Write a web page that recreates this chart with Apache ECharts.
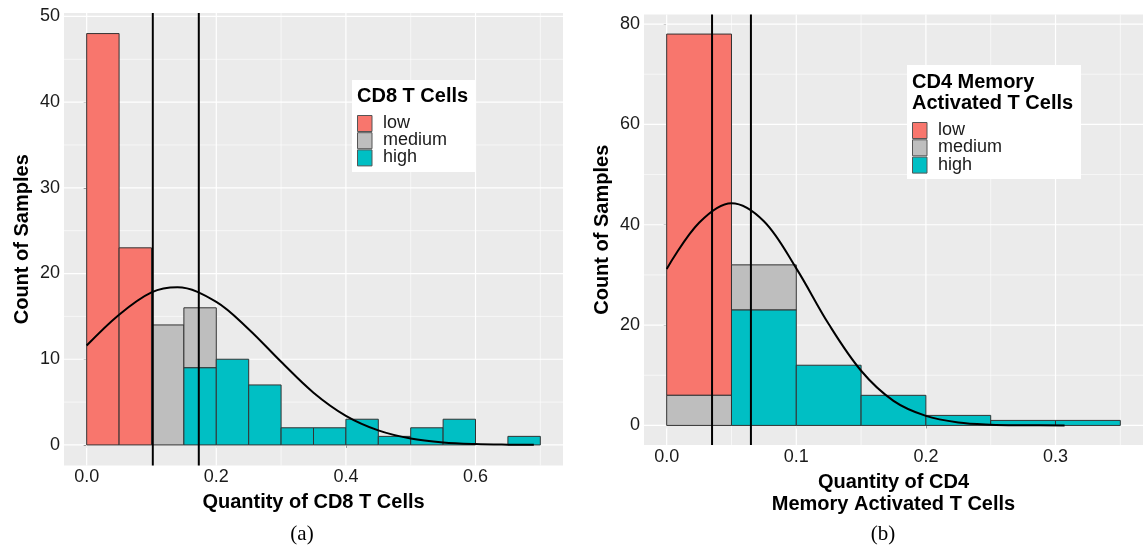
<!DOCTYPE html>
<html><head><meta charset="utf-8">
<script src="https://cdn.jsdelivr.net/npm/echarts@6/dist/echarts.min.js"></script>
<style>html,body{margin:0;padding:0;background:#fff}#c{width:1146px;height:547px}</style>
</head><body><div id="c"></div>
<script>
// ---------- data ----------
const binWidth = 0.05;
const levels = ['low', 'medium', 'high'];
const levelColors = ['#F8766D', '#BEBEBE', '#00BFC4'];

// Panel (a): CD8 T Cells
const aBinStarts = [0, 0.05, 0.1, 0.15, 0.2, 0.25, 0.3, 0.35, 0.4, 0.45, 0.5, 0.55, 0.6, 0.65];
const aLow       = [48, 23, 0, 0, 0, 0, 0, 0, 0, 0, 0, 0, 0, 0];
const aMedium    = [0, 0, 14, 7, 0, 0, 0, 0, 0, 0, 0, 0, 0, 0];
const aHigh      = [0, 0, 0, 9, 10, 7, 2, 2, 3, 1, 2, 3, 0, 1];
const aCutoffs   = [0.102, 0.173];
const aCurveX    = [0, 0.05, 0.1, 0.14, 0.2, 0.25, 0.3, 0.35, 0.4, 0.45, 0.5, 0.55, 0.6, 0.65, 0.69];
const aCurveY    = [11.6, 15.2, 17.8, 18.4, 16.7, 13.5, 9.7, 6.1, 3.4, 1.7, 0.75, 0.29, 0.1, 0.03, 0.01];
const aXTicks    = [0, 0.2, 0.4, 0.6];
const aXMinor    = [0.1, 0.3, 0.5, 0.7];
const aYTicks    = [0, 10, 20, 30, 40, 50];
const aYMinor    = [5, 15, 25, 35, 45];
const aXTitle    = 'Quantity of CD8 T Cells';
const aLegendTitle = 'CD8 T Cells';
const aCaption   = '(a)';

// Panel (b): CD4 Memory Activated T Cells
const bBinStarts = [0, 0.05, 0.1, 0.15, 0.2, 0.25, 0.3];
const bLow       = [72, 0, 0, 0, 0, 0, 0];
const bMedium    = [6, 9, 0, 0, 0, 0, 0];
const bHigh      = [0, 23, 12, 6, 2, 1, 1];
const bCutoffs   = [0.035, 0.065];
const bCurveX    = [0, 0.025, 0.05, 0.075, 0.1, 0.125, 0.15, 0.175, 0.2, 0.225, 0.25, 0.275, 0.307];
const bCurveY    = [31.2, 40.4, 44.3, 40.7, 31.3, 20.2, 10.9, 4.9, 1.9, 0.6, 0.16, 0.04, 0.0];
const bXTicks    = [0, 0.1, 0.2, 0.3];
const bXMinor    = [0.05, 0.15, 0.25, 0.35];
const bYTicks    = [0, 20, 40, 60, 80];
const bYMinor    = [10, 30, 50, 70];
const bXTitle    = 'Quantity of CD4\nMemory Activated T Cells';
const bLegendTitle = 'CD4 Memory\nActivated T Cells';
const bCaption   = '(b)';

// ---------- helpers ----------
const FONT = 'Liberation Sans, Arial, sans-serif';
const chart = echarts.init(document.getElementById('c'), null, {renderer: 'canvas'});

function stackedRects(starts, low, med, high) {
  // stacking bottom -> top: high, medium, low
  const out = [[], [], []];
  starts.forEach((x0, i) => {
    let base = 0;
    [[2, high[i]], [1, med[i]], [0, low[i]]].forEach(([lvl, v]) => {
      if (v > 0) { out[lvl].push([x0, x0 + binWidth, base, base + v]); base += v; }
    });
  });
  return out;
}

function gridLineSeries(idx, values, dir, width) {
  return {
    type: 'custom', xAxisIndex: idx, yAxisIndex: idx, z: 1, silent: true,
    data: values.map(v => dir === 'x' ? [v, 0] : [0, v]),
    encode: dir === 'x' ? {x: 0} : {y: 1},
    renderItem: (params, api) => {
      const cs = params.coordSys;
      const p = api.coord([api.value(0), api.value(1)]);
      const shape = dir === 'x'
        ? {x1: p[0], y1: cs.y, x2: p[0], y2: cs.y + cs.height}
        : {x1: cs.x, y1: p[1], x2: cs.x + cs.width, y2: p[1]};
      return {type: 'line', shape, style: {stroke: '#FFFFFF', lineWidth: width}};
    }
  };
}

function barSeries(idx, rects, lvl) {
  return {
    type: 'custom', name: levels[lvl], xAxisIndex: idx, yAxisIndex: idx, z: 3, silent: true,
    data: rects, encode: {x: [0, 1], y: [2, 3]},
    renderItem: (params, api) => {
      const a = api.coord([api.value(0), api.value(3)]);
      const b = api.coord([api.value(1), api.value(2)]);
      return {type: 'rect', shape: {x: a[0], y: a[1], width: b[0] - a[0], height: b[1] - a[1]},
        style: {fill: levelColors[lvl], stroke: '#333333', lineWidth: 1}};
    }
  };
}

function cutoffSeries(idx, values) {
  return {
    type: 'custom', xAxisIndex: idx, yAxisIndex: idx, z: 4, silent: true,
    data: values.map(v => [v, 0]), encode: {x: 0},
    renderItem: (params, api) => {
      const cs = params.coordSys;
      const p = api.coord([api.value(0), 0]);
      return {type: 'line', shape: {x1: p[0], y1: cs.y, x2: p[0], y2: cs.y + cs.height},
        style: {stroke: '#000', lineWidth: 2}};
    }
  };
}

function curveSeries(idx, xs, ys) {
  return {
    type: 'line', xAxisIndex: idx, yAxisIndex: idx, z: 5, silent: true,
    data: xs.map((x, i) => [x, ys[i]]), smooth: 0.35, showSymbol: false,
    lineStyle: {color: '#000', width: 2}
  };
}

function xAxisCfg(idx, min, max, ticks, title, gap) {
  return {
    gridIndex: idx, type: 'value', min, max,
    splitLine: {show: false}, axisLine: {show: false},
    axisTick: {show: true, customValues: ticks, length: 3, lineStyle: {color: '#333', width: 1}},
    axisLabel: {customValues: ticks, formatter: v => v.toFixed(1), fontSize: 18, color: '#1a1a1a',
      margin: 3, fontFamily: FONT},
    name: title, nameLocation: 'middle', nameGap: gap,
    nameTextStyle: {fontSize: 20, fontWeight: 'bold', color: '#000', fontFamily: FONT,
      lineHeight: 22.5, verticalAlign: 'top'}
  };
}
function yAxisCfg(idx, min, max, ticks) {
  return {
    gridIndex: idx, type: 'value', min, max,
    splitLine: {show: false}, axisLine: {show: false},
    axisTick: {show: true, customValues: ticks, length: 3, lineStyle: {color: '#333', width: 1}},
    axisLabel: {customValues: ticks, formatter: v => String(v), fontSize: 18, color: '#1a1a1a',
      margin: 4, fontFamily: FONT},
    name: 'Count of Samples', nameLocation: 'middle', nameGap: 32,
    nameTextStyle: {fontSize: 20, fontWeight: 'bold', color: '#000', fontFamily: FONT}
  };
}

function legendGraphics(box, title, titleLines, swatchX, swatchY0, step, labelX) {
  const g = [];
  g.push({type: 'rect', shape: box, style: {fill: '#fff'}, z: 10});
  titleLines.forEach((t, i) => g.push({type: 'text', x: swatchX, y: title.y + i * title.lh, z: 11,
    style: {text: t, font: 'bold 20px ' + FONT, fill: '#000', textVerticalAlign: 'middle'}}));
  levels.forEach((lv, i) => {
    g.push({type: 'rect', shape: {x: swatchX + 0.5, y: swatchY0 + i * step, width: 14.5, height: 16},
      style: {fill: levelColors[i], stroke: '#555', lineWidth: 1}, z: 11});
    g.push({type: 'text', x: labelX, y: swatchY0 + i * step + 7.5, z: 11,
      style: {text: lv, font: '18px ' + FONT, fill: '#1a1a1a', textVerticalAlign: 'middle'}});
  });
  return g;
}

const aRects = stackedRects(aBinStarts, aLow, aMedium, aHigh);
const bRects = stackedRects(bBinStarts, bLow, bMedium, bHigh);

const gridStyle = {show: true, backgroundColor: '#EBEBEB', borderWidth: 0, containLabel: false};

const option = {
  animation: false,
  grid: [
    Object.assign({left: 64, top: 13, right: 583, bottom: 81.5}, gridStyle),
    Object.assign({left: 644, top: 14.5, right: 3, bottom: 102}, gridStyle)
  ],
  xAxis: [
    xAxisCfg(0, -0.035, 0.735, aXTicks, aXTitle, 15),
    xAxisCfg(1, -0.0175, 0.3675, bXTicks, bXTitle, 19)
  ],
  yAxis: [
    yAxisCfg(0, -2.4, 50.4, aYTicks),
    yAxisCfg(1, -3.9, 81.9, bYTicks)
  ],
  series: [
    gridLineSeries(0, aXMinor, 'x', 0.6), gridLineSeries(0, aYMinor, 'y', 0.6),
    gridLineSeries(0, aXTicks, 'x', 1.2), gridLineSeries(0, aYTicks, 'y', 1.2),
    gridLineSeries(1, bXMinor, 'x', 0.6), gridLineSeries(1, bYMinor, 'y', 0.6),
    gridLineSeries(1, bXTicks, 'x', 1.2), gridLineSeries(1, bYTicks, 'y', 1.2),
    barSeries(0, aRects[0], 0), barSeries(0, aRects[1], 1), barSeries(0, aRects[2], 2),
    barSeries(1, bRects[0], 0), barSeries(1, bRects[1], 1), barSeries(1, bRects[2], 2),
    cutoffSeries(0, aCutoffs), cutoffSeries(1, bCutoffs),
    curveSeries(0, aCurveX, aCurveY), curveSeries(1, bCurveX, bCurveY)
  ],
  graphic: [].concat(
    legendGraphics({x: 352, y: 80, width: 124, height: 92}, {y: 96, lh: 0}, aLegendTitle.split('\n'),
      357, 115.5, 17.2, 383),
    legendGraphics({x: 907, y: 65, width: 174, height: 114}, {y: 82, lh: 21.5}, bLegendTitle.split('\n'),
      912, 122.5, 17.3, 938),
    [
      {type: 'text', x: 302, y: 534, style: {text: aCaption, font: '21px Liberation Serif, serif', fill: '#000',
        textAlign: 'center', textVerticalAlign: 'middle'}},
      {type: 'text', x: 883, y: 534, style: {text: bCaption, font: '21px Liberation Serif, serif', fill: '#000',
        textAlign: 'center', textVerticalAlign: 'middle'}}
    ]
  )
};
chart.setOption(option);
</script>
</body></html>
